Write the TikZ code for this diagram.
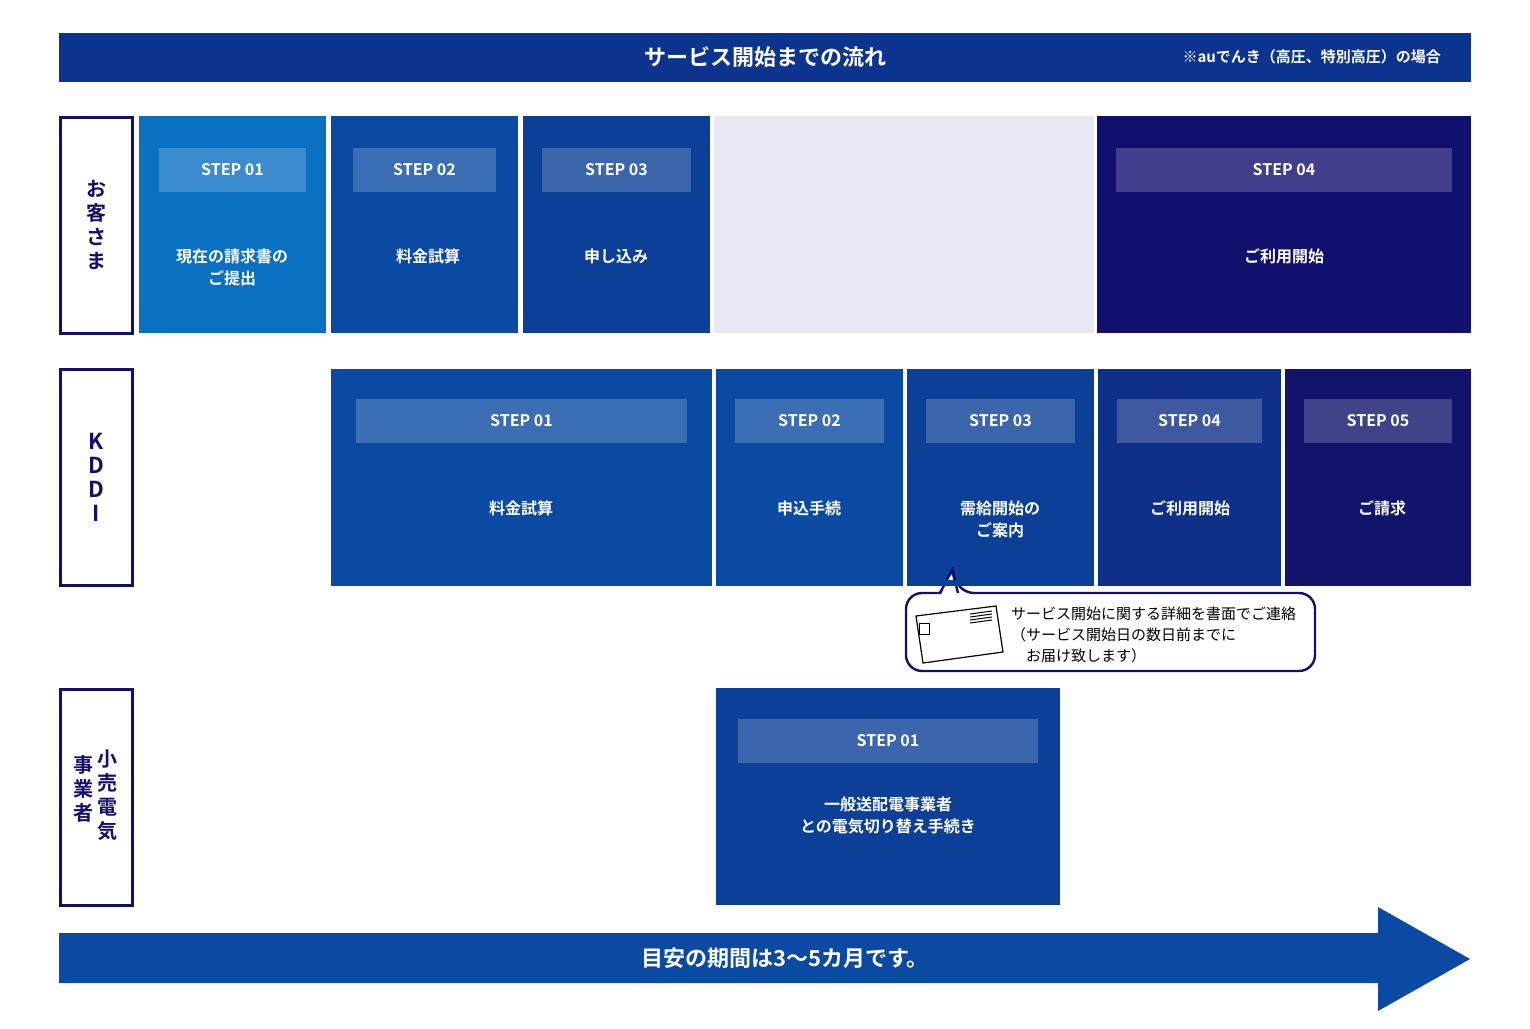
\documentclass[tikz,border=0pt]{standalone}
\usepackage{fontspec}
\setmainfont{Noto Sans CJK JP}[BoldFont={Noto Sans CJK JP Bold}]
\begin{document}
\begin{tikzpicture}[x=0.5pt,y=-0.5pt,
  lbl/.style={draw=black!0,line width=0pt},
  side/.style={draw={rgb,255:red,18;green,16;blue,110},line width=1.5pt,fill=white},
  wt/.style={text=white,font=\bfseries\fontsize{8}{11}\selectfont,align=center}]
\definecolor{hdr}{RGB}{12,52,142}
\definecolor{cA}{RGB}{10,112,194}
\definecolor{cB}{RGB}{11,74,162}
\definecolor{cC}{RGB}{12,64,152}
\definecolor{cD}{RGB}{14,48,136}
\definecolor{cE}{RGB}{18,20,108}
\definecolor{navy}{RGB}{18,16,110}
\definecolor{gry}{RGB}{230,232,242}
\useasboundingbox (0,0) rectangle (1530,1028);
\newcommand\mkstep[9]{%
  \fill[#5] (#1,#2) rectangle (#3,#4);
  \fill[white,opacity=0.2] (#1+#8,#6) rectangle (#3-#8,#6+44);
  \node[wt] (#9s) at ({(#1+#3)/2},#6+22) {#7};}
% header
\fill[hdr] (59,33) rectangle (1471,82);
\node[wt,font=\bfseries\fontsize{11}{13}\selectfont] (hd) at (765,57) {サービス開始までの流れ};
\node[wt,font=\bfseries\fontsize{7.5}{9}\selectfont,anchor=east] (hd2) at (1448,57) {※auでんき（高圧、特別高圧）の場合};
% side labels
\draw[side] (60,117) rectangle (132,333);
\node[text=navy,font=\bfseries\fontsize{10}{12}\selectfont,align=center] (l1) at (96,225) {お\\客\\さ\\ま};
\draw[side] (60,369) rectangle (132,585);
\node[text=navy,font=\bfseries\fontsize{11}{12}\selectfont,align=center] (l2) at (96,477) {K\\D\\D\\I};
\draw[side] (60,689) rectangle (132,905);
\node[text=navy,font=\bfseries\fontsize{10}{12}\selectfont,align=center] (l3a) at (107,795) {小\\売\\電\\気};
\node[text=navy,font=\bfseries\fontsize{10}{12}\selectfont,align=center] (l3b) at (83,789) {事\\業\\者};
% customer row
\mkstep{139}{116}{326}{333}{cA}{148}{STEP 01}{20}{c1}
\node[wt] (c1t) at (232,267) {現在の請求書の\\ご提出};
\mkstep{331}{116}{518}{333}{cB}{148}{STEP 02}{22}{c2}
\node[wt] (c2t) at (428,256) {料金試算};
\mkstep{523}{116}{710}{333}{cC}{148}{STEP 03}{19}{c3}
\node[wt] (c3t) at (616,256) {申し込み};
\fill[gry] (714,116) rectangle (1094,333);
\mkstep{1097}{116}{1471}{333}{navy}{148}{STEP 04}{19}{c4}
\node[wt] (c4t) at (1284,256) {ご利用開始};
% KDDI row
\mkstep{331}{369}{712}{586}{cB}{399}{STEP 01}{25}{k1}
\node[wt] (k1t) at (521,508) {料金試算};
\mkstep{716}{369}{903}{586}{cB}{399}{STEP 02}{19}{k2}
\node[wt] (k2t) at (809,508) {申込手続};
\mkstep{907}{369}{1094}{586}{cC}{399}{STEP 03}{19}{k3}
\node[wt] (k3t) at (1000,519) {需給開始の\\ご案内};
\mkstep{1098}{369}{1281}{586}{cD}{399}{STEP 04}{19}{k4}
\node[wt] (k4t) at (1190,508) {ご利用開始};
\mkstep{1285}{369}{1471}{586}{cE}{399}{STEP 05}{19}{k5}
\node[wt] (k5t) at (1382,508) {ご請求};
% callout
\draw[navy,line width=1.2pt,fill=white,rounded corners=8pt]
  (940,593) -- (906,593) -- (906,671) -- (1315,671) -- (1315,593) -- (958,593) [sharp corners] -- (953,570) -- cycle;
\fill[white] (938,590) -- (960,590) -- (952,574) -- cycle;
\draw[navy,line width=1.2pt] (940,593) -- (952,570) -- (958,593);
\fill[cC] (907,580) rectangle (1094,586);
\draw[line width=0.6pt] (916,616) -- (996,606) -- (1003,652) -- (923,663) -- cycle;
\draw[line width=0.5pt] (919,623) rectangle (929,634);
\foreach \i in {0,1,2,3} \draw[line width=0.5pt] (970,614+3*\i) -- (992,611+3*\i);
\node[font=\fontsize{7.5}{10.5}\selectfont,anchor=north west,align=left] (cot) at (1004,600)
  {サービス開始に関する詳細を書面でご連絡\\（サービス開始日の数日前までに\\　お届け致します）};
% retailer
\mkstep{716}{688}{1060}{905}{cC}{719}{STEP 01}{22}{r1}
\node[wt] (r1t) at (888,816) {一般送配電事業者\\との電気切り替え手続き};
% arrow
\fill[cB] (59,933) -- (1378,933) -- (1378,907) -- (1470,959) -- (1378,1011) -- (1378,983) -- (59,983) -- cycle;
\node[wt,font=\bfseries\fontsize{11}{13}\selectfont] (ar) at (785,958) {目安の期間は3〜5カ月です。};
\end{tikzpicture}
\end{document}
